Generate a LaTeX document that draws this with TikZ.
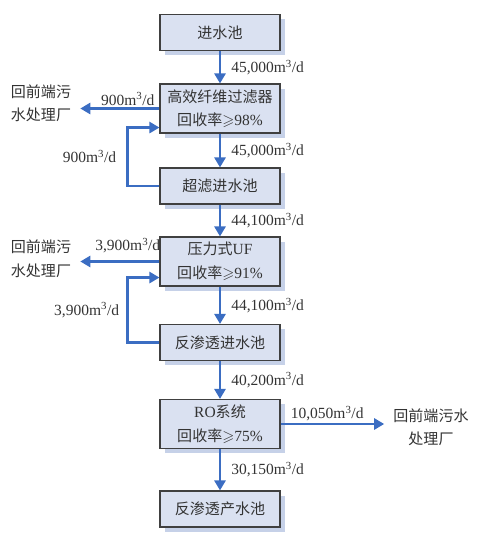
\documentclass[tikz,border=0pt]{standalone}
\usepackage{fontspec}
\usepackage{amssymb}
\setmainfont{Liberation Serif}
\newfontfamily\cjk{Noto Sans CJK SC}[Scale=0.97]
\newcommand{\zh}[1]{{\cjk #1}}
\usetikzlibrary{arrows.meta,positioning,shadows}
\definecolor{boxfill}{HTML}{DAE1F1}
\definecolor{boxshade}{HTML}{C6D1E8}
\definecolor{flow}{HTML}{3B6DC2}
\definecolor{txt}{HTML}{333333}
\tikzset{
    pool/.style={
           rectangle,
           draw=black!75,
           fill=boxfill,
           line width=1.1pt,
           minimum width=120pt,
           minimum height=36pt,
           text centered,
           align=center,
           drop shadow={fill=boxshade,opacity=1,shadow xshift=5pt,shadow yshift=-5pt},
           },
    unit/.style={pool,minimum height=49pt},
    back/.style={align=center,inner xsep=9pt},
}

\begin{document}
\begin{tikzpicture}[
  x=1pt,y=1pt,
  ->,>={Triangle[length=10pt,width=11pt]},
  font=\fontsize{15.5}{23.5}\selectfont,
  text=txt,
  flowline/.style={draw=flow,line width=2.6pt},
  rate/.style={font=\fontsize{15.5}{17}\selectfont,inner sep=2pt}]
\useasboundingbox (0,0) rectangle (476,548);
\node[pool](inlet) at (220,515.5){\zh{进水池}};
\node[unit,below of=inlet,node distance=76pt](fiber){\zh{高效纤维过滤器}\\\zh{回收率}$\geqslant$98\%};
\node[pool,below of=fiber,node distance=77.5pt](ufin){\zh{超滤进水池}};
\node[unit,below of=ufin,node distance=75.5pt](uf){\zh{压力式}UF\\\zh{回收率}$\geqslant$91\%};
\node[pool,below of=uf,node distance=81pt](roin){\zh{反渗透进水池}};
\node[unit,below of=roin,node distance=81.5pt](ro){RO\zh{系统}\\\zh{回收率}$\geqslant$75\%};
\node[pool,below of=ro,node distance=85pt](roout){\zh{反渗透产水池}};
\node[back,left of=fiber,node distance=179pt,yshift=5pt](backa){\zh{回前端污}\\\zh{水处理厂}};
\node[back,left of=uf,node distance=179pt,yshift=2.5pt](backb){\zh{回前端污}\\\zh{水处理厂}};
\node[back,right of=ro,node distance=211pt,yshift=-3.5pt](backc){\zh{回前端污水}\\\zh{处理厂}};

\path (inlet) edge[flowline] node[rate,right=8pt]{45,000m\textsuperscript{3}/d} (fiber)
      (fiber) edge[flowline] node[rate,right=8pt]{45,000m\textsuperscript{3}/d} (ufin)
      (ufin) edge[flowline] node[rate,right=8pt]{44,100m\textsuperscript{3}/d} (uf)
      (uf) edge[flowline] node[rate,right=8pt]{44,100m\textsuperscript{3}/d} (roin)
      (roin) edge[flowline] node[rate,right=8pt]{40,200m\textsuperscript{3}/d} (ro)
      (ro) edge[flowline] node[rate,right=8pt]{30,150m\textsuperscript{3}/d} (roout);
\draw[flowline] (fiber.west) -- node[rate,above,pos=0.4]{900m\textsuperscript{3}/d} (fiber.west -| backa.east);
\draw[flowline] (uf.west) -- node[rate,above=5pt,pos=0.4]{3,900m\textsuperscript{3}/d} (uf.west -| backb.east);
\draw[flowline] (ro.east) -- node[rate,above,pos=0.45]{10,050m\textsuperscript{3}/d} (ro.east -| backc.west);
% recycle loops
\draw[flowline] (ufin.west) -- ++(-32,0) |- node[rate,left=8pt,pos=0.25]{900m\textsuperscript{3}/d} ([yshift=6pt]fiber.south west);
\draw[flowline] (roin.west) -- ++(-32,0) |- node[rate,left=5pt,pos=0.25]{3,900m\textsuperscript{3}/d} ([yshift=9pt]uf.south west);
\end{tikzpicture}
\end{document}
